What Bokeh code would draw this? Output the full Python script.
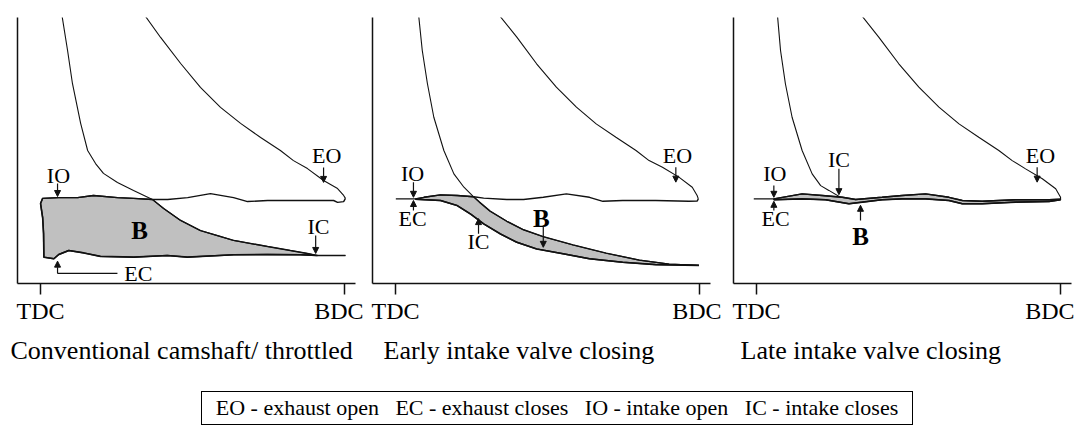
from bokeh.plotting import figure
from bokeh.layouts import row, column
from bokeh.models import FixedTicker, Arrow, NormalHead, Title, Div, Spacer, Range1d, LinearAxis
from bokeh.core.properties import value
from bokeh.embed import file_html
from bokeh.resources import INLINE

SERIF = "Liberation Serif"

# ---------------- data (V in % of stroke from TDC, p in % of plotted height) ----
TICK_LABELS = {0: "TDC", 100: "BDC"}
CAPTIONS = ["Conventional camshaft/ throttled", "Early intake valve closing", "Late intake valve closing"]
LEGEND_ITEMS = ["EO - exhaust open", "EC - exhaust closes", "IO - intake open", "IC - intake closes"]

# Panel 1: conventional camshaft / throttled
conv_expansion = [(33.6, 101.9), (39.5, 92.5), (46.1, 82.7), (52.6, 73.7), (59.2, 66.2), (65.8, 60.2),
                  (72.4, 54.9), (78.9, 50.0), (83.2, 46.2), (87.8, 43.2), (93.1, 38.7), (97.7, 35.7),
                  (99.7, 33.1), (100.3, 32.0)]
conv_exhaust = [(100.3, 32.0), (99.7, 30.8), (97.7, 30.5), (96.4, 31.2), (85.5, 31.2), (74.7, 31.2),
                (68.1, 30.8), (63.5, 32.3), (55.9, 33.8), (48.4, 32.3), (41.8, 31.6), (36.8, 31.6),
                (30.6, 32.0), (25.3, 32.3), (17.4, 33.1), (12.2, 32.3), (5.9, 32.3), (0.7, 32.0), (0.0, 30.1)]
conv_intake = [(0.0, 30.1), (0.7, 24.8), (1.0, 18.8), (1.1, 9.9), (4.4, 9.3), (6.0, 10.9), (9.3, 12.4),
               (14.2, 11.5), (19.7, 10.2), (30.7, 9.9), (41.7, 10.5), (48.3, 9.9), (63.6, 10.8),
               (74.6, 10.9), (85.5, 10.8), (91.1, 10.5), (100.3, 10.5)]
conv_compression = [(100.3, 10.5), (91.1, 10.5), (87.8, 11.3), (82.2, 12.4), (74.7, 13.9), (63.5, 16.2),
                    (58.2, 18.0), (52.6, 19.9), (46.1, 23.7), (40.5, 28.2), (36.8, 31.6), (30.6, 35.0),
                    (25.3, 38.0), (20.7, 41.4), (18.1, 45.1), (15.5, 50.0), (13.2, 60.2), (10.5, 75.2),
                    (8.9, 87.6), (6.9, 101.9)]
conv_ic_v = 91.1
conv_cross_v = 36.8
conv_labels = [("IO", 5.9, 40.6), ("EO", 94.1, 48.1), ("IC", 91.4, 21.4), ("EC", 32.2, 3.6)]
conv_b = (32.6, 19.9)
conv_arrows = [(5.6, 37.6, 5.6, 32.7), (93.1, 43.6, 93.1, 38.0), (90.5, 18.0, 90.5, 11.3), (5.6, 3.8, 5.6, 8.4)]
conv_leader = [(25.3, 3.8), (5.6, 3.8)]

# Panel 2: early intake valve closing
eivc_expansion = [(33.3, 102.0), (39.9, 92.6), (46.4, 82.6), (52.9, 73.8), (59.5, 66.3), (66.0, 60.0),
                  (72.5, 55.0), (79.1, 50.0), (83.4, 46.2), (87.8, 43.7), (93.2, 40.0), (97.6, 36.2),
                  (99.2, 33.1), (99.6, 31.8)]
eivc_exhaust = [(99.6, 31.8), (99.2, 31.0), (96.5, 30.9), (85.6, 31.2), (74.7, 31.2), (68.2, 30.9),
                (63.8, 32.4), (56.2, 33.7), (48.6, 32.4), (42.1, 31.6), (36.6, 31.6), (29.0, 32.1),
                (25.7, 32.6), (20.3, 33.1), (14.8, 33.3), (9.4, 32.4), (6.6, 31.8), (0.1, 31.8)]
eivc_intake = [(6.6, 31.7), (14.8, 31.2), (20.3, 29.3), (24.6, 26.2), (29.0, 22.4), (34.4, 18.7),
               (39.9, 15.5), (46.4, 13.0), (55.1, 11.2), (63.8, 9.3), (74.7, 8.0), (85.6, 7.1), (99.8, 6.8)]
eivc_compression = [(99.8, 6.8), (90.0, 7.3), (80.2, 8.8), (69.3, 11.4), (58.4, 14.5), (48.6, 17.6),
                    (42.1, 20.2), (36.6, 23.4), (31.1, 27.2), (27.6, 30.6), (25.7, 32.6), (22.5, 36.2),
                    (19.2, 41.2), (15.9, 50.0), (12.6, 62.5), (10.5, 75.1), (8.8, 87.6), (7.5, 102.0)]
eivc_cross_v = 25.7
eivc_labels = [("IO", 5.6, 41.5), ("EC", 5.6, 24.3), ("IC", 27.3, 15.9), ("EO", 92.7, 48.1)]
eivc_b = (48.0, 24.6)
eivc_arrows = [(5.9, 38.1, 5.9, 32.4), (5.9, 27.4, 5.9, 31.2), (27.3, 18.7, 27.3, 24.4),
               (48.6, 21.2, 48.6, 13.6), (92.2, 43.7, 92.2, 38.1)]

# Panel 3: late intake valve closing
livc_expansion = [(33.7, 102.0), (40.2, 92.6), (46.8, 82.6), (53.4, 73.8), (60.0, 66.3), (66.6, 60.0),
                  (73.1, 55.0), (79.7, 50.0), (84.1, 46.2), (88.5, 43.1), (94.0, 39.4), (98.4, 35.6),
                  (100.0, 32.4), (100.0, 31.7)]
livc_exhaust = [(100.0, 31.7), (96.2, 31.5), (85.2, 31.5), (74.2, 30.9), (67.7, 31.2), (63.3, 32.4),
                (55.6, 33.7), (47.9, 33.1), (41.3, 32.4), (32.6, 31.6), (28.2, 32.4), (21.6, 33.1),
                (15.0, 33.7), (8.5, 32.4), (5.7, 31.8), (-0.9, 31.8)]
livc_intake = [(5.7, 31.5), (15.0, 31.8), (22.7, 31.5), (30.4, 30.0), (34.8, 30.6), (41.3, 31.5),
               (47.9, 31.8), (55.6, 31.8), (63.3, 31.2), (67.7, 30.0), (74.2, 30.0), (85.2, 30.6),
               (96.2, 30.8), (100.0, 31.5)]
livc_compression = [(27.6, 32.4), (23.8, 35.0), (21.1, 36.8), (18.3, 41.2), (15.0, 50.0), (11.7, 62.5),
                    (9.5, 75.1), (7.9, 87.6), (6.8, 102.0)]
livc_labels = [("IO", 6.0, 41.5), ("EC", 6.3, 24.3), ("IC", 27.1, 46.6), ("EO", 93.4, 48.1)]
livc_b = (34.2, 17.6)
livc_arrows = [(5.7, 36.8, 5.7, 32.4), (5.7, 27.4, 5.7, 30.9), (27.1, 43.1, 27.1, 33.4),
               (34.2, 23.7, 34.2, 29.4), (92.3, 43.7, 92.3, 38.1)]


def xs(pts):
    return [q[0] for q in pts]


def ys(pts):
    return [q[1] for q in pts]


# shaded loss areas, built from the cycle segments
conv_shade = ([q for q in conv_exhaust if q[0] <= conv_cross_v]
              + [q for q in conv_intake if q[0] <= conv_ic_v]
              + [q for q in conv_compression if conv_cross_v < q[0] < conv_ic_v])
eivc_shade = ([q for q in eivc_exhaust if eivc_intake[0][0] <= q[0] <= eivc_cross_v]
              + eivc_intake
              + [q for q in eivc_compression if q[0] >= eivc_cross_v])
livc_shade = ([q for q in livc_exhaust if q[0] >= livc_intake[0][0]] + livc_intake)

SHADE = "#c0c0c0"
INK = "#111111"


def make_panel(caption, cap_offset, bl, br, expansion, exhaust, intake, compression, shade,
               labels, bpos, arrows, leader=None):
    p = figure(frame_width=338, frame_height=266, x_range=Range1d(-7.57, 103.6), y_range=Range1d(0, 100),
               output_backend="svg", toolbar_location=None, x_axis_location=None, y_axis_location=None,
               min_border_left=bl, min_border_right=br, min_border_top=17, min_border_bottom=0)
    p.grid.visible = False
    p.outline_line_color = None
    p.background_fill_color = "white"
    p.border_fill_color = "white"

    xa = LinearAxis(ticker=FixedTicker(ticks=list(TICK_LABELS.keys())),
                    major_label_overrides=TICK_LABELS)
    xa.axis_line_color = INK
    xa.axis_line_width = 1.5
    xa.major_tick_line_color = INK
    xa.major_tick_line_width = 1.5
    xa.major_tick_out = 11
    xa.major_tick_in = 0
    xa.minor_tick_line_color = None
    xa.major_label_text_font = SERIF
    xa.major_label_text_font_size = "24px"
    xa.major_label_text_color = "black"
    xa.major_label_standoff = 3
    p.add_layout(xa, "below")

    ya = LinearAxis(ticker=FixedTicker(ticks=[]))
    ya.axis_line_color = INK
    ya.axis_line_width = 1.5
    ya.major_tick_line_color = None
    ya.minor_tick_line_color = None
    ya.major_label_text_font_size = "0px"
    ya.major_label_standoff = 0
    p.add_layout(ya, "left")

    p.add_layout(Title(text=caption, align="left", offset=cap_offset, text_font=SERIF,
                       text_font_size="26px", text_font_style="normal", text_color="black",
                       standoff=15), "below")

    p.patch(xs(shade), ys(shade), fill_color=SHADE, line_color=None)
    p.line(xs(expansion), ys(expansion), line_color=INK, line_width=1.1)
    p.line(xs(compression), ys(compression), line_color=INK, line_width=1.1)
    p.line(xs(exhaust), ys(exhaust), line_color=INK, line_width=1.4)
    p.line(xs(intake), ys(intake), line_color=INK, line_width=1.6)
    p.line(xs(shade) + [shade[0][0]], ys(shade) + [shade[0][1]], line_color=INK, line_width=1.4)

    p.text([q[1] for q in labels], [q[2] for q in labels], text=[q[0] for q in labels],
           text_align="center", text_baseline="middle", text_font=value(SERIF),
           text_font_size="22px", text_color="black")
    p.text([bpos[0]], [bpos[1]], text=["B"], text_align="center", text_baseline="middle",
           text_font=value(SERIF), text_font_size="25px", text_font_style="bold", text_color="black")
    for (x0, y0, x1, y1) in arrows:
        p.add_layout(Arrow(x_start=x0, y_start=y0, x_end=x1, y_end=y1, line_color=INK, line_width=1.2,
                           end=NormalHead(size=6, fill_color=INK, line_color=INK, line_width=1)))
    if leader:
        p.line(xs(leader), ys(leader), line_color=INK, line_width=1.2)
    return p


p1 = make_panel(CAPTIONS[0], -7, 17, 8, conv_expansion, conv_exhaust, conv_intake, conv_compression,
                conv_shade, conv_labels, conv_b, conv_arrows, conv_leader)
p2 = make_panel(CAPTIONS[1], 11, 9, 11, eivc_expansion, eivc_exhaust, eivc_intake, eivc_compression,
                eivc_shade, eivc_labels, eivc_b, eivc_arrows)
p3 = make_panel(CAPTIONS[2], 7, 12, 3, livc_expansion, livc_exhaust, livc_intake, livc_compression,
                livc_shade, livc_labels, livc_b, livc_arrows)

legend_html = "&nbsp;&nbsp;&nbsp;".join(LEGEND_ITEMS)
legend = Div(text=legend_html, width=712, height=34,
             styles={"border": "1.5px solid black", "font-family": "'Liberation Serif'",
                     "font-size": "22px", "color": "black", "white-space": "nowrap",
                     "box-sizing": "border-box", "padding": "2px 6px", "line-height": "28px",
                     "text-align": "center", "background": "white"})

layout = column(row(p1, p2, p3), Spacer(height=14), row(Spacer(width=196), legend))

open("out.html", "w").write(file_html(layout, INLINE))
